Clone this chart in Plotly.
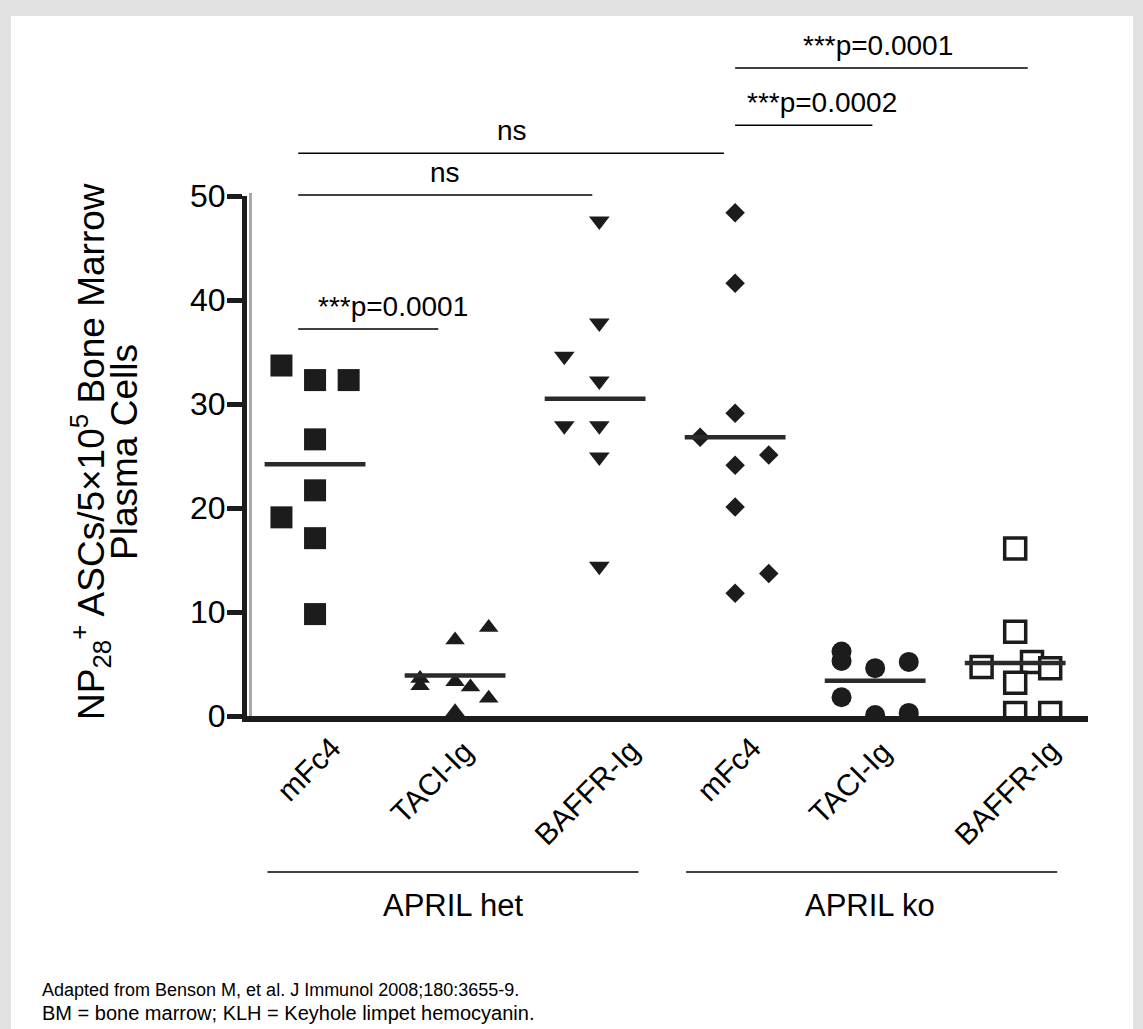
import plotly.graph_objects as go

# ---------------- data ----------------
tick_labels = ["mFc4", "TACI-Ig", "BAFFR-Ig", "mFc4", "TACI-Ig", "BAFFR-Ig"]
group_pos = [0, 1, 2, 3, 4, 5]

het_mfc4_y = [33.7, 32.3, 32.3, 26.6, 21.7, 19.1, 17.1, 9.8]
het_mfc4_dx = [-0.24, 0, 0.24, 0, 0, -0.24, 0, 0]

het_taci_y = [8.5, 7.3, 3.6, 2.9, 3.3, 2.8, 1.7, 0.4]
het_taci_dx = [0.24, 0, -0.25, -0.25, 0, 0.11, 0.24, 0]

het_baffr_y = [47.6, 37.8, 34.6, 32.2, 27.9, 27.9, 24.9, 14.4]
het_baffr_dx = [0.03, 0.03, -0.22, 0.03, -0.22, 0.03, 0.03, 0.03]

ko_mfc4_y = [48.4, 41.6, 29.1, 26.8, 25.1, 24.1, 20.1, 13.7, 11.8]
ko_mfc4_dx = [0, 0, 0, -0.25, 0.24, 0, 0, 0.24, 0]

ko_taci_y = [6.2, 5.3, 4.6, 5.2, 1.8, 0.1, 0.3]
ko_taci_dx = [-0.24, -0.24, 0, 0.24, -0.24, 0, 0.24]

ko_baffr_y = [16.1, 8.1, 4.7, 5.2, 4.6, 3.2, 0.3, 0.3]
ko_baffr_dx = [0, 0, -0.24, 0.12, 0.25, 0, 0, 0.25]

medians = [24.2, 3.9, 30.5, 26.8, 3.4, 5.1]

# significance brackets
sig_x0 = [-0.12, -0.12, -0.12, 3.0, 3.0]
sig_x1 = [0.88, 1.98, 2.92, 3.98, 5.09]
sig_y = [37.2, 50.1, 54.1, 56.8, 62.3]
sig_text = ["***p=0.0001", "ns", "ns", "***p=0.0002", "***p=0.0001"]
sig_text_x = [0.56, 0.93, 1.41, 3.62, 4.02]

group_names = ["APRIL het", "APRIL ko"]
group_line_x0 = [-0.34, 2.65]
group_line_x1 = [2.31, 5.3]
group_center = [0.99, 3.96]

y_title_lines = ["NP<sub>28</sub><sup>+</sup> ASCs/5×10<sup>5</sup> Bone Marrow",
                 "Plasma Cells"]
footnotes = ["Adapted from Benson M, et al. J Immunol 2008;180:3655-9.",
             "BM = bone marrow; KLH = Keyhole limpet hemocyanin."]

# ---------------- layout / style constants ----------------
W, H = 1143, 1029
ML, MR, MT, MB = 247, 55, 196, 313
X_RANGE = [-0.486, 5.52]
Y_RANGE = [0, 50]
PW = W - ML - MR
PH = H - MT - MB
INK = "#1c1c1c"
FONT = "Liberation Sans, Arial, sans-serif"
LABEL_DX = [-0.05, -0.17, -0.06, -0.05, -0.18, -0.06]   # label centre shift
LABEL_CY = [769, 782, 792, 769, 782, 792]                # label centre (px)
FOOT_SIZE = [18, 20]


def gx(v):
    return (v - X_RANGE[0]) / (X_RANGE[1] - X_RANGE[0])


def gy(v):
    return (v - Y_RANGE[0]) / (Y_RANGE[1] - Y_RANGE[0])


def px_x(p):
    return (p - ML) / PW


def px_y(p):
    return (H - MB - p) / PH


fig = go.Figure()

groups = [
    (het_mfc4_y, het_mfc4_dx, dict(symbol="square", size=22, color=INK)),
    (het_taci_y, het_taci_dx, dict(symbol="triangle-up", size=17, color=INK)),
    (het_baffr_y, het_baffr_dx, dict(symbol="triangle-down", size=18, color=INK)),
    (ko_mfc4_y, ko_mfc4_dx, dict(symbol="diamond", size=15, color=INK)),
    (ko_taci_y, ko_taci_dx, dict(symbol="circle", size=20, color=INK)),
    (ko_baffr_y, ko_baffr_dx, dict(symbol="square", size=21, color="white",
                                   line=dict(width=3.5, color=INK))),
]

for i, (ys, dxs, mk) in enumerate(groups):
    fig.add_trace(go.Scatter(
        x=[group_pos[i] + d for d in dxs], y=ys, mode="markers",
        marker=mk, showlegend=False, hoverinfo="y"))

for i, m in enumerate(medians):
    fig.add_trace(go.Scatter(
        x=[group_pos[i] - 0.36, group_pos[i] + 0.36], y=[m, m], mode="lines",
        line=dict(color="#2a2a2a", width=4.5), showlegend=False, hoverinfo="skip"))

shapes = []
annotations = []

# card background
shapes.append(dict(type="rect", xref="paper", yref="paper", layer="below",
                   x0=px_x(11), x1=px_x(1133), y0=px_y(1040), y1=px_y(16),
                   fillcolor="white", line=dict(width=0)))
# soft grey shadow beside the axes
shapes.append(dict(type="line", xref="paper", yref="paper", layer="below",
                   x0=px_x(250.5), x1=px_x(250.5), y0=px_y(716), y1=px_y(193),
                   line=dict(color="#a8a8a8", width=3)))
shapes.append(dict(type="line", xref="paper", yref="paper", layer="below",
                   x0=px_x(247), x1=px_x(1088), y0=px_y(720), y1=px_y(720),
                   line=dict(color="#a8a8a8", width=3)))

for x0, x1, yv, t, tx in zip(sig_x0, sig_x1, sig_y, sig_text, sig_text_x):
    shapes.append(dict(type="line", xref="paper", yref="paper",
                       x0=gx(x0), x1=gx(x1), y0=gy(yv), y1=gy(yv),
                       line=dict(color="black", width=1.5)))
    annotations.append(dict(text=t, xref="paper", yref="paper",
                            x=gx(tx), y=gy(yv) + 5 / PH, xanchor="center",
                            yanchor="bottom", showarrow=False,
                            font=dict(size=28, color="black", family=FONT)))

for name, x0, x1, c in zip(group_names, group_line_x0, group_line_x1, group_center):
    shapes.append(dict(type="line", xref="paper", yref="paper",
                       x0=gx(x0), x1=gx(x1), y0=px_y(872), y1=px_y(872),
                       line=dict(color="black", width=1.5)))
    annotations.append(dict(text=name, xref="paper", yref="paper",
                            x=gx(c), y=px_y(905), xanchor="center",
                            yanchor="middle", showarrow=False,
                            font=dict(size=31, color="black", family=FONT)))

# rotated category labels
for p, t, dx, cy in zip(group_pos, tick_labels, LABEL_DX, LABEL_CY):
    annotations.append(dict(text=t, xref="paper", yref="paper",
                            x=gx(p + dx), y=px_y(cy), textangle=-45,
                            xanchor="center", yanchor="middle", showarrow=False,
                            font=dict(size=30, color="black", family=FONT)))

# y-axis title (two lines)
for t, xp in zip(y_title_lines, [90, 124]):
    annotations.append(dict(text=t, xref="paper", yref="paper",
                            x=px_x(xp), y=px_y(452), textangle=-90,
                            xanchor="center", yanchor="middle", showarrow=False,
                            font=dict(size=37, color="black", family=FONT)))

for t, yp, fs in zip(footnotes, [990, 1013], FOOT_SIZE):
    annotations.append(dict(text=t, xref="paper", yref="paper",
                            x=px_x(40), y=px_y(yp), xanchor="left",
                            yanchor="middle", showarrow=False,
                            font=dict(size=fs, color="black", family=FONT)))

fig.update_layout(
    width=W, height=H,
    margin=dict(l=ML, r=MR, t=MT, b=MB),
    paper_bgcolor="#e2e2e2", plot_bgcolor="rgba(0,0,0,0)",
    font=dict(family=FONT, color="black"),
    shapes=shapes, annotations=annotations,
    xaxis=dict(range=X_RANGE, tickvals=group_pos, showticklabels=False,
               showgrid=False, zeroline=False, showline=True, linewidth=6,
               linecolor=INK, ticks="", fixedrange=True),
    yaxis=dict(range=Y_RANGE, tickvals=[0, 10, 20, 30, 40, 50],
               tickfont=dict(size=32), showgrid=False, zeroline=False,
               showline=True, linewidth=5, linecolor=INK, ticks="outside",
               ticklen=15, tickwidth=5, tickcolor=INK, fixedrange=True,
               ticklabelstandoff=-5),
)

fig.write_html("out.html")
